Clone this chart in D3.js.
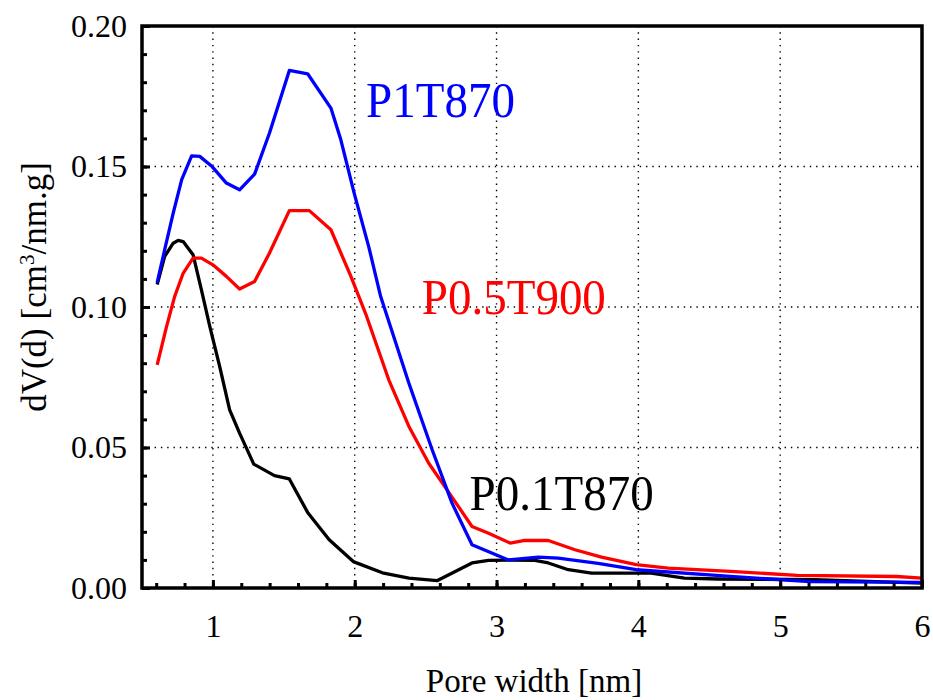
<!DOCTYPE html>
<html>
<head>
<meta charset="utf-8">
<script src="https://cdn.jsdelivr.net/npm/d3@7"></script>
<style>
  body { margin: 0; background: #fff; }
  svg { font-family: "Liberation Serif", "Times New Roman", serif; }
</style>
</head>
<body>
<svg id="svg" width="933" height="700"></svg>
<script>
// pore size distribution, three samples

var poreP1 = [0.607,0.66,0.72,0.78,0.85,0.907,0.99,1.095,1.188,1.294,1.399,1.539,1.668,1.832,1.902,1.996,2.1,2.183,2.382,2.546,2.686,2.827,3.084,3.295,3.435,3.716,3.985,4.65,5.21,6.0];
var dvP1   = [0.1087,0.1204,0.1334,0.1453,0.1538,0.1536,0.1502,0.1441,0.1417,0.1473,0.1619,0.1842,0.183,0.1708,0.1595,0.1405,0.1212,0.1037,0.0729,0.0492,0.0302,0.0154,0.0100,0.0110,0.0106,0.0088,0.0065,0.0041,0.0023,0.0020];

var poreP05 = [0.607,0.673,0.73,0.79,0.86,0.919,1.0,1.095,1.188,1.294,1.399,1.539,1.68,1.832,1.973,2.078,2.24,2.382,2.522,2.651,2.827,2.944,3.096,3.19,3.365,3.553,3.74,3.985,4.21,4.65,5.12,5.82,6.0];
var dvP05   = [0.0794,0.093,0.1037,0.112,0.1174,0.1174,0.115,0.1109,0.1064,0.1091,0.1192,0.1343,0.1343,0.1275,0.1109,0.0975,0.0741,0.0575,0.0444,0.0349,0.0219,0.0195,0.016,0.0169,0.0169,0.0136,0.011,0.0083,0.0071,0.0059,0.0045,0.0041,0.0035];

var poreP01 = [0.607,0.66,0.72,0.755,0.79,0.86,0.919,0.978,1.048,1.118,1.188,1.288,1.434,1.539,1.668,1.82,1.99,2.195,2.382,2.58,2.827,2.944,3.084,3.27,3.365,3.506,3.67,3.904,4.09,4.325,4.56,5.24,6.0];
var dvP01   = [0.108,0.118,0.1227,0.1237,0.1233,0.1186,0.1061,0.0931,0.0788,0.0634,0.0551,0.0441,0.04,0.0388,0.0269,0.0172,0.0094,0.0054,0.0035,0.0026,0.0089,0.0098,0.0099,0.0098,0.0089,0.0065,0.0053,0.0053,0.0053,0.0035,0.0032,0.003,0.0017];

var xTicks = [1, 2, 3, 4, 5, 6];
var yTicks = [0, 0.05, 0.10, 0.15, 0.20];

var series = [
  {name: "P0.1T870", x: poreP01, y: dvP01, color: "#000000", lx: 2.81, ly: 0.0278},
  {name: "P0.5T900", x: poreP05, y: dvP05, color: "#ff0000", lx: 2.473, ly: 0.0976},
  {name: "P1T870",   x: poreP1,  y: dvP1,  color: "#0000ff", lx: 2.08, ly: 0.1677}
];

var svg = d3.select("#svg");
var mLeft = 142, mRight = 922, mTop = 26, mBottom = 588;

var x = d3.scaleLinear().domain([0.5, 6]).range([mLeft, mRight]);
var y = d3.scaleLinear().domain([0, 0.2]).range([mBottom, mTop]);

// dotted grid
var grid = svg.append("g");
grid.selectAll(".gx").data(xTicks.slice(0, 5)).enter().append("line")
  .attr("x1", function(d){ return x(d); })
  .attr("x2", function(d){ return x(d); })
  .attr("y1", mTop).attr("y2", mBottom)
  .attr("stroke", "#000").attr("stroke-width", 1.4)
  .attr("stroke-dasharray", "1.4,4.9");
grid.selectAll(".gy").data(yTicks.slice(1, 4)).enter().append("line")
  .attr("x1", mLeft).attr("x2", mRight)
  .attr("y1", function(d){ return y(d); })
  .attr("y2", function(d){ return y(d); })
  .attr("stroke", "#000").attr("stroke-width", 1.4)
  .attr("stroke-dasharray", "1.4,4.9");

// curves
var line = d3.line()
  .x(function(d){ return x(d[0]); })
  .y(function(d){ return y(d[1]); });

series.forEach(function(s){
  var pts = s.x.map(function(v, i){ return [v, s.y[i]]; });
  svg.append("path")
    .attr("d", line(pts))
    .attr("fill", "none")
    .attr("stroke", s.color)
    .attr("stroke-width", 3.3)
    .attr("stroke-linejoin", "round");
  svg.append("text")
    .attr("transform", "translate(" + x(s.lx) + "," + y(s.ly) + ") scale(1,1.08)")
    .attr("fill", s.color)
    .attr("font-size", 47)
    .text(s.name);
});

// minor ticks
var minorX = d3.range(0.6, 6, 0.2);
var minorY = d3.range(0.01, 0.2, 0.01);

svg.append("g")
  .attr("transform", "translate(0," + mBottom + ")")
  .call(d3.axisBottom(x).tickValues(minorX).tickSize(-5).tickFormat(""))
  .call(function(g){ g.select(".domain").remove(); g.selectAll("line").attr("stroke-width", 3); });

svg.append("g")
  .attr("transform", "translate(" + mLeft + ",0)")
  .call(d3.axisLeft(y).tickValues(minorY).tickSize(-5).tickFormat(""))
  .call(function(g){ g.select(".domain").remove(); g.selectAll("line").attr("stroke-width", 3); });

// major ticks with labels
var xAxis = svg.append("g")
  .attr("transform", "translate(0," + mBottom + ")")
  .call(d3.axisBottom(x).tickValues(xTicks).tickSize(-8).tickPadding(26).tickFormat(d3.format("d")));
xAxis.select(".domain").remove();
xAxis.selectAll("line").attr("stroke-width", 3);
xAxis.selectAll("text").attr("font-size", 32).attr("font-family", "Liberation Serif").attr("fill", "#000");

var yAxis = svg.append("g")
  .attr("transform", "translate(" + mLeft + ",0)")
  .call(d3.axisLeft(y).tickValues(yTicks).tickSize(-8).tickPadding(15).tickFormat(d3.format(".2f")));
yAxis.select(".domain").remove();
yAxis.selectAll("line").attr("stroke-width", 3);
yAxis.selectAll("text").attr("font-size", 32).attr("font-family", "Liberation Serif").attr("fill", "#000");

// frame
svg.append("rect")
  .attr("x", mLeft).attr("y", mTop)
  .attr("width", mRight - mLeft).attr("height", mBottom - mTop)
  .attr("fill", "none").attr("stroke", "#000").attr("stroke-width", 3.5);

// axis titles
svg.append("text")
  .attr("x", (mLeft + mRight) / 2 + 2)
  .attr("y", 692)
  .attr("text-anchor", "middle")
  .attr("font-size", 33)
  .text("Pore width [nm]");

var yt = svg.append("text")
  .attr("transform", "translate(46,287) rotate(-90)")
  .attr("text-anchor", "middle")
  .attr("font-size", 35);
yt.append("tspan").text("dV(d) [cm");
yt.append("tspan").attr("baseline-shift", "super").attr("font-size", 21).text("3");
yt.append("tspan").text("/nm.g]");
</script>
</body>
</html>
